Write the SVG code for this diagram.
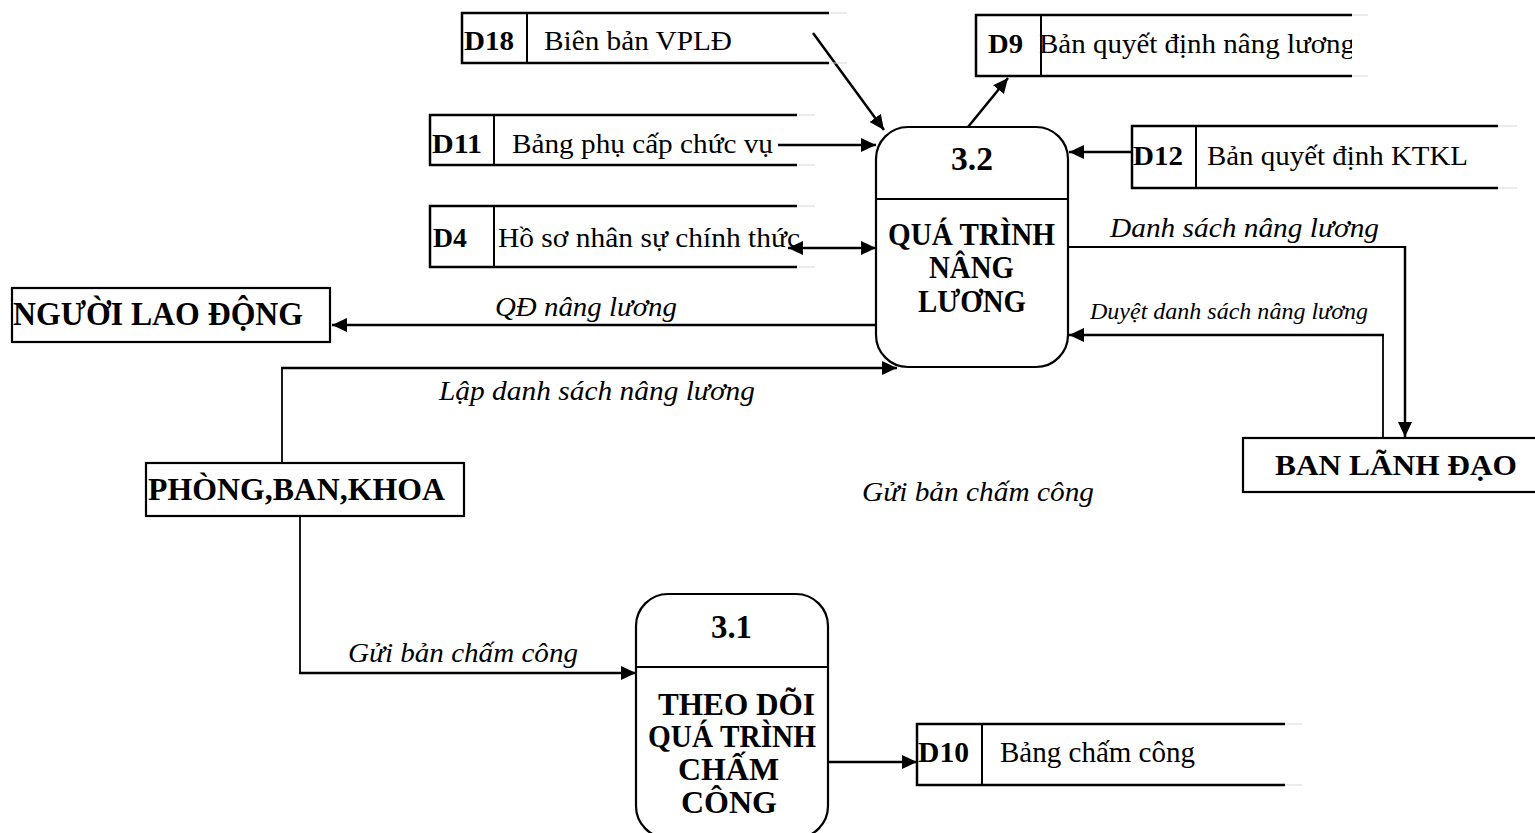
<svg xmlns="http://www.w3.org/2000/svg" width="1535" height="833" viewBox="0 0 1535 833">
  <style>
    text { font-family: "Liberation Serif", "Times New Roman", serif; fill: #000; }
    .b { font-weight: bold; }
    .i { font-style: italic; }
    .store { stroke: #000; stroke-width: 2.5; fill: none; }
    .sdiv { stroke: #000; stroke-width: 2; }
    .tail { stroke: #d8d8d8; stroke-width: 1; }
    .proc { fill: #fff; stroke: #000; stroke-width: 2.2; }
    .ent { fill: #fff; stroke: #000; stroke-width: 2.2; }
    .flow { fill: none; stroke: #000; stroke-width: 2.5; }
    .thin { fill: none; stroke: #000; stroke-width: 1.8; }
  </style>
  <defs>
    <marker id="arrow" markerUnits="userSpaceOnUse" markerWidth="16" markerHeight="14" refX="15" refY="7" orient="auto-start-reverse">
      <path d="M0,0 L15,7 L0,14 z" fill="#000"/>
    </marker>
    <clipPath id="clipD9">
      <rect x="976" y="0" width="376" height="100"/>
    </clipPath>
  </defs>

  <!-- connectors -->
  <g id="connectors">
    <line class="flow" x1="813" y1="33" x2="884" y2="130" marker-end="url(#arrow)"/>
    <line class="flow" x1="968" y1="127" x2="1008" y2="78" marker-end="url(#arrow)"/>
    <line class="flow" x1="778" y1="145" x2="876" y2="145" marker-end="url(#arrow)"/>
    <line class="flow" x1="788" y1="248" x2="876" y2="248" marker-start="url(#arrow)" marker-end="url(#arrow)"/>
    <line class="flow" x1="1132" y1="152" x2="1069" y2="152" marker-end="url(#arrow)"/>
    <line class="flow" x1="876" y1="325" x2="332" y2="325" marker-end="url(#arrow)"/>
    <!-- Danh sách nâng lương -->
    <polyline class="thin" points="1068,247 1405,247 1405,300"/>
    <line class="flow" x1="1405" y1="246" x2="1405" y2="437" marker-end="url(#arrow)"/>
    <!-- Duyệt danh sách nâng lương -->
    <line class="thin" x1="1383" y1="437" x2="1383" y2="335"/>
    <line class="flow" x1="1384" y1="335" x2="1069" y2="335" marker-end="url(#arrow)"/>
    <!-- Lập danh sách nâng lương -->
    <line class="thin" x1="282" y1="462" x2="282" y2="368"/>
    <line class="flow" x1="281" y1="368" x2="897" y2="368" marker-end="url(#arrow)"/>
    <!-- Gửi bản chấm công -->
    <line class="thin" x1="300" y1="517" x2="300" y2="673"/>
    <line class="flow" x1="299" y1="673" x2="636" y2="673" marker-end="url(#arrow)"/>
    <line class="flow" x1="828" y1="762" x2="917" y2="762" marker-end="url(#arrow)"/>

    <text class="i" x="1110" y="237" font-size="28" textLength="269" lengthAdjust="spacingAndGlyphs">Danh sách nâng lương</text>
    <text class="i" x="1090" y="319" font-size="23" textLength="278" lengthAdjust="spacingAndGlyphs">Duyệt danh sách nâng lương</text>
    <text class="i" x="495" y="316" font-size="27" textLength="182" lengthAdjust="spacingAndGlyphs">QĐ nâng lương</text>
    <text class="i" x="439" y="400" font-size="27" textLength="316" lengthAdjust="spacingAndGlyphs">Lập danh sách nâng lương</text>
    <text class="i" x="862" y="501" font-size="28" textLength="232" lengthAdjust="spacingAndGlyphs">Gửi bản chấm công</text>
    <text class="i" x="348" y="662" font-size="28" textLength="230" lengthAdjust="spacingAndGlyphs">Gửi bản chấm công</text>
  </g>

  <!-- data stores -->
  <g id="D18">
    <line class="tail" x1="829" y1="13" x2="847" y2="13"/>
    <line class="tail" x1="829" y1="63" x2="847" y2="63"/>
    <path class="store" d="M829,13 H462 V63 H829"/>
    <line class="sdiv" x1="527" y1="13" x2="527" y2="63"/>
    <text class="b" x="464" y="50" font-size="28" textLength="50" lengthAdjust="spacingAndGlyphs">D18</text>
    <text x="544" y="50" font-size="28" textLength="188" lengthAdjust="spacingAndGlyphs">Biên bản VPLĐ</text>
  </g>

  <g id="D11">
    <line class="tail" x1="797" y1="115" x2="815" y2="115"/>
    <line class="tail" x1="797" y1="165" x2="815" y2="165"/>
    <path class="store" d="M797,115 H430 V165 H797"/>
    <line class="sdiv" x1="494" y1="115" x2="494" y2="165"/>
    <text class="b" x="432" y="153" font-size="28" textLength="50" lengthAdjust="spacingAndGlyphs">D11</text>
    <text x="512" y="153" font-size="28" textLength="261" lengthAdjust="spacingAndGlyphs">Bảng phụ cấp chức vụ</text>
  </g>

  <g id="D4">
    <line class="tail" x1="797" y1="206" x2="815" y2="206"/>
    <line class="tail" x1="797" y1="267" x2="815" y2="267"/>
    <path class="store" d="M797,206 H430 V267 H797"/>
    <line class="sdiv" x1="494" y1="206" x2="494" y2="267"/>
    <text class="b" x="433" y="247" font-size="28" textLength="34" lengthAdjust="spacingAndGlyphs">D4</text>
    <text x="498" y="247" font-size="28" textLength="302" lengthAdjust="spacingAndGlyphs">Hồ sơ nhân sự chính thức</text>
  </g>

  <g id="D9">
    <line class="tail" x1="1352" y1="15" x2="1368" y2="15"/>
    <line class="tail" x1="1352" y1="76" x2="1368" y2="76"/>
    <path class="store" d="M1352,15 H976 V76 H1352"/>
    <line class="sdiv" x1="1041" y1="15" x2="1041" y2="76"/>
    <text class="b" x="988" y="53" font-size="28" textLength="35" lengthAdjust="spacingAndGlyphs">D9</text>
    <text x="1039" y="53" font-size="28" textLength="316" lengthAdjust="spacingAndGlyphs" clip-path="url(#clipD9)">Bản quyết định nâng lương</text>
  </g>

  <g id="D12">
    <line class="tail" x1="1498" y1="126" x2="1517" y2="126"/>
    <line class="tail" x1="1498" y1="188" x2="1517" y2="188"/>
    <path class="store" d="M1498,126 H1132 V188 H1498"/>
    <line class="sdiv" x1="1196" y1="126" x2="1196" y2="188"/>
    <text class="b" x="1133" y="165" font-size="28" textLength="50" lengthAdjust="spacingAndGlyphs">D12</text>
    <text x="1207" y="165" font-size="28" textLength="261" lengthAdjust="spacingAndGlyphs">Bản quyết định KTKL</text>
  </g>

  <g id="D10">
    <line class="tail" x1="1285" y1="724" x2="1302" y2="724"/>
    <line class="tail" x1="1285" y1="785" x2="1302" y2="785"/>
    <path class="store" d="M1285,724 H917 V785 H1285"/>
    <line class="sdiv" x1="982" y1="724" x2="982" y2="785"/>
    <text class="b" x="918" y="762" font-size="29" textLength="51" lengthAdjust="spacingAndGlyphs">D10</text>
    <text x="1000" y="762" font-size="29" textLength="195" lengthAdjust="spacingAndGlyphs">Bảng chấm công</text>
  </g>

  <!-- processes -->
  <g id="P3_2">
    <rect class="proc" x="876" y="127" width="192" height="240" rx="32" ry="32"/>
    <line class="sdiv" x1="876" y1="199" x2="1068" y2="199"/>
    <text class="b" x="951" y="170" font-size="34" textLength="42" lengthAdjust="spacingAndGlyphs">3.2</text>
    <text class="b" x="888" y="245" font-size="31" textLength="167" lengthAdjust="spacingAndGlyphs">QUÁ TRÌNH</text>
    <text class="b" x="929" y="278" font-size="31" textLength="85" lengthAdjust="spacingAndGlyphs">NÂNG</text>
    <text class="b" x="918" y="312" font-size="31" textLength="108" lengthAdjust="spacingAndGlyphs">LƯƠNG</text>
  </g>

  <g id="P3_1">
    <rect class="proc" x="636" y="594" width="192" height="244" rx="32" ry="32"/>
    <line class="sdiv" x1="636" y1="667" x2="828" y2="667"/>
    <text class="b" x="711" y="638" font-size="33" textLength="41" lengthAdjust="spacingAndGlyphs">3.1</text>
    <text class="b" x="658" y="715" font-size="31" textLength="157" lengthAdjust="spacingAndGlyphs">THEO DÕI</text>
    <text class="b" x="648" y="747" font-size="31" textLength="168" lengthAdjust="spacingAndGlyphs">QUÁ TRÌNH</text>
    <text class="b" x="678" y="780" font-size="31" textLength="101" lengthAdjust="spacingAndGlyphs">CHẤM</text>
    <text class="b" x="681" y="813" font-size="31" textLength="96" lengthAdjust="spacingAndGlyphs">CÔNG</text>
  </g>

  <!-- external entities -->
  <g id="NguoiLaoDong">
    <rect class="ent" x="12" y="288" width="318" height="54"/>
    <text class="b" x="13" y="325" font-size="34" textLength="290" lengthAdjust="spacingAndGlyphs">NGƯỜI LAO ĐỘNG</text>
  </g>

  <g id="PhongBanKhoa">
    <rect class="ent" x="146" y="463" width="318" height="53"/>
    <text class="b" x="148" y="500" font-size="32" textLength="297" lengthAdjust="spacingAndGlyphs">PHÒNG,BAN,KHOA</text>
  </g>

  <g id="BanLanhDao">
    <rect class="ent" x="1243" y="438" width="294" height="54"/>
    <text class="b" x="1275" y="475" font-size="30" textLength="242" lengthAdjust="spacingAndGlyphs">BAN LÃNH ĐẠO</text>
  </g>
</svg>
